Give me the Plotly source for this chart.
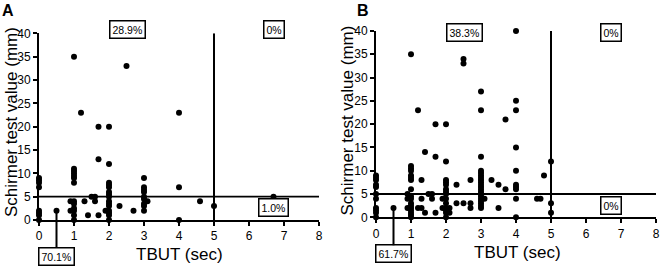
import plotly.graph_objects as go

# ---------------- data ----------------
# Panel A: TBUT (sec) vs Schirmer test value (mm)
a_tbut = ([0]*8 + [0.5] +
          [1]*13 + [0.9, 0.9] + [1.2] + [1.3] + [1.4] + [1.5] + [1.6, 1.6] + [1.7]*3 +
          [2]*15 + [1.9] + [2.3] + [2.5] + [2.7] +
          [3]*9 + [3.1] + [4]*3 + [4.6] + [5] + [6.7])
a_schirmer = ([9, 8.5, 8, 7, 2, 1.5, 1, 0] + [2] +
              [35, 11, 10.5, 10, 9.5, 9, 8, 4, 3.5, 2.5, 2, 1, 0] + [4, 2] + [23] + [4] + [1] + [5] + [5, 4] + [20, 13, 1] +
              [20, 12, 8, 7.5, 7, 6, 5.5, 5, 4, 3.5, 3, 2, 1.5, 1, 0] + [2] + [3] + [33] + [2] +
              [9, 7, 6.5, 6, 5, 4.5, 3.5, 3, 2] + [4] + [23, 7, 0] + [4] + [3] + [5])

# Panel B
b_tbut = ([0]*11 + [0.5] +
          [1]*17 + [0.9]*3 + [1.2]*2 + [1.3]*3 + [1.4]*2 + [1.5] + [1.6]*2 + [1.7]*3 +
          [2]*14 + [1.9]*2 + [2.1]*2 + [2.3]*2 + [2.5]*3 + [2.7]*3 +
          [3]*20 + [3.1] + [3.3] + [3.5]*2 + [3.7]*2 +
          [4]*10 + [4.6] + [4.7] + [4.8] + [5]*3)
b_schirmer = ([9, 8.5, 8, 7, 6.5, 5, 4, 2, 1.5, 1, 0] + [2] +
              [35, 11, 10.5, 10, 9, 8.5, 8, 6, 4.5, 4, 3, 2.5, 2, 1.5, 1, 0.5, 0] + [5, 4, 2] + [23, 2] + [8, 4, 2] + [14, 1] + [5] + [5, 4] + [20, 13, 1] +
              [20, 12, 8, 7.5, 7, 6, 5.5, 5, 4, 3, 2, 1.5, 1, 0] + [4, 2] + [2, 1] + [7, 3] + [34, 33, 3] + [8, 3, 2] +
              [27, 23, 13, 10, 9.5, 9, 8.5, 8, 7.5, 7, 6.5, 6, 5.5, 5, 4.5, 4, 3.5, 3, 2.5, 2] + [4] + [8] + [7, 2] + [21, 6] +
              [40, 25, 23, 15, 10, 7, 6.5, 6, 4, 0] + [4] + [4] + [9] + [12, 3, 1])

# cut-offs
tbut_cutoff = 5
schirmer_cutoff = 5

# quadrant percentages: (upper-left, upper-right, lower-left, lower-right)
a_pct = ["28.9%", "0%", "70.1%", "1.0%"]
b_pct = ["38.3%", "0%", "61.7%", "0%"]

x_ticks = [0, 1, 2, 3, 4, 5, 6, 7, 8]
y_ticks = [0, 5, 10, 15, 20, 25, 30, 35, 40]

x_title = "TBUT (sec)"
y_title = "Schirmer test value (mm)"

FONT = "Liberation Sans, Arial, sans-serif"
W, H = 660, 266

fig = go.Figure()

fig.add_trace(go.Scatter(x=a_tbut, y=a_schirmer, mode="markers", xaxis="x", yaxis="y",
                         marker=dict(size=6, color="black"), cliponaxis=False, showlegend=False))
fig.add_trace(go.Scatter(x=b_tbut, y=b_schirmer, mode="markers", xaxis="x2", yaxis="y2",
                         marker=dict(size=6, color="black"), cliponaxis=False, showlegend=False))

axis_common = dict(showline=True, linewidth=2, linecolor="black", ticks="outside",
                   ticklen=4, tickwidth=1.5, tickcolor="black", showgrid=False, zeroline=False,
                   automargin=False,
                   tickfont=dict(family=FONT, size=12, color="black"))

xa_dom = [39 / W, 319 / W]
xb_dom = [376 / W, 656 / W]
ya_dom = [46 / H, 232.7 / H]
yb_dom = [48.7 / H, 235 / H]

fig.update_layout(
    width=W, height=H,
    margin=dict(l=0, r=0, t=0, b=0, autoexpand=False),
    paper_bgcolor="white", plot_bgcolor="white",
    font=dict(family=FONT, color="black"),
    xaxis=dict(domain=xa_dom, range=[0, 8], tickvals=x_ticks, anchor="y", **axis_common),
    yaxis=dict(domain=ya_dom, range=[0, 40], tickvals=y_ticks, anchor="x", **axis_common),
    xaxis2=dict(domain=xb_dom, range=[0, 8], tickvals=x_ticks, anchor="y2", **axis_common),
    yaxis2=dict(domain=yb_dom, range=[0, 40], tickvals=y_ticks, anchor="x2", **axis_common),
)

# axis titles
title_font = dict(family=FONT, size=17, color="black")
for xc, yc in [(179.7, 254.5), (517, 252)]:
    fig.add_annotation(text=x_title, xref="paper", yref="paper", x=xc / W, y=(H - yc) / H,
                       xanchor="center", yanchor="middle", showarrow=False, font=title_font)
for xc, yc in [(11, 122), (346.5, 121)]:
    fig.add_annotation(text=y_title, xref="paper", yref="paper", x=xc / W, y=(H - yc) / H,
                       xanchor="center", yanchor="middle", textangle=-90, showarrow=False, font=title_font)

# cut-off lines
for xr, yr in [("x", "y"), ("x2", "y2")]:
    fig.add_shape(type="line", xref=xr, yref=yr, x0=0, x1=8, y0=schirmer_cutoff, y1=schirmer_cutoff,
                  line=dict(color="black", width=1.8))
    fig.add_shape(type="line", xref=xr, yref=yr, x0=tbut_cutoff, x1=tbut_cutoff, y0=0, y1=40,
                  line=dict(color="black", width=2))

box = dict(bordercolor="black", borderwidth=1.5, borderpad=2, bgcolor="white",
           font=dict(family=FONT, size=10.5, color="black"))

def add_boxes(xr, yr, pct, top_y):
    ul, ur, ll, lr = pct
    fig.add_annotation(text=ul, xref=xr, yref="paper", x=2.53, y=top_y, showarrow=False, **box)
    fig.add_annotation(text=ur, xref=xr, yref="paper", x=6.7, y=top_y, showarrow=False, **box)
    fig.add_annotation(text=lr, xref=xr, yref=yr, x=6.7, y=2.6, showarrow=False, **box)
    fig.add_annotation(text=ll, xref=xr, yref=yr, x=0.5, y=2, showarrow=True, arrowhead=0,
                       arrowwidth=2, arrowcolor="black", ax=0, ay=46, standoff=0, **box)

add_boxes("x", "y", a_pct, (H - 20.5) / H)
add_boxes("x2", "y2", b_pct, (H - 22.5) / H)

# panel labels
fig.add_annotation(text="<b>A</b>", xref="paper", yref="paper", x=0, y=1.0, xanchor="left", yanchor="top",
                   showarrow=False, font=dict(family=FONT, size=16, color="black"))
fig.add_annotation(text="<b>B</b>", xref="paper", yref="paper", x=355 / W, y=1.0, xanchor="left", yanchor="top",
                   showarrow=False, font=dict(family=FONT, size=16, color="black"))

fig.write_html("out.html", config={"displayModeBar": False},
               post_script="document.body.style.margin='0';document.body.style.overflow='hidden';")
